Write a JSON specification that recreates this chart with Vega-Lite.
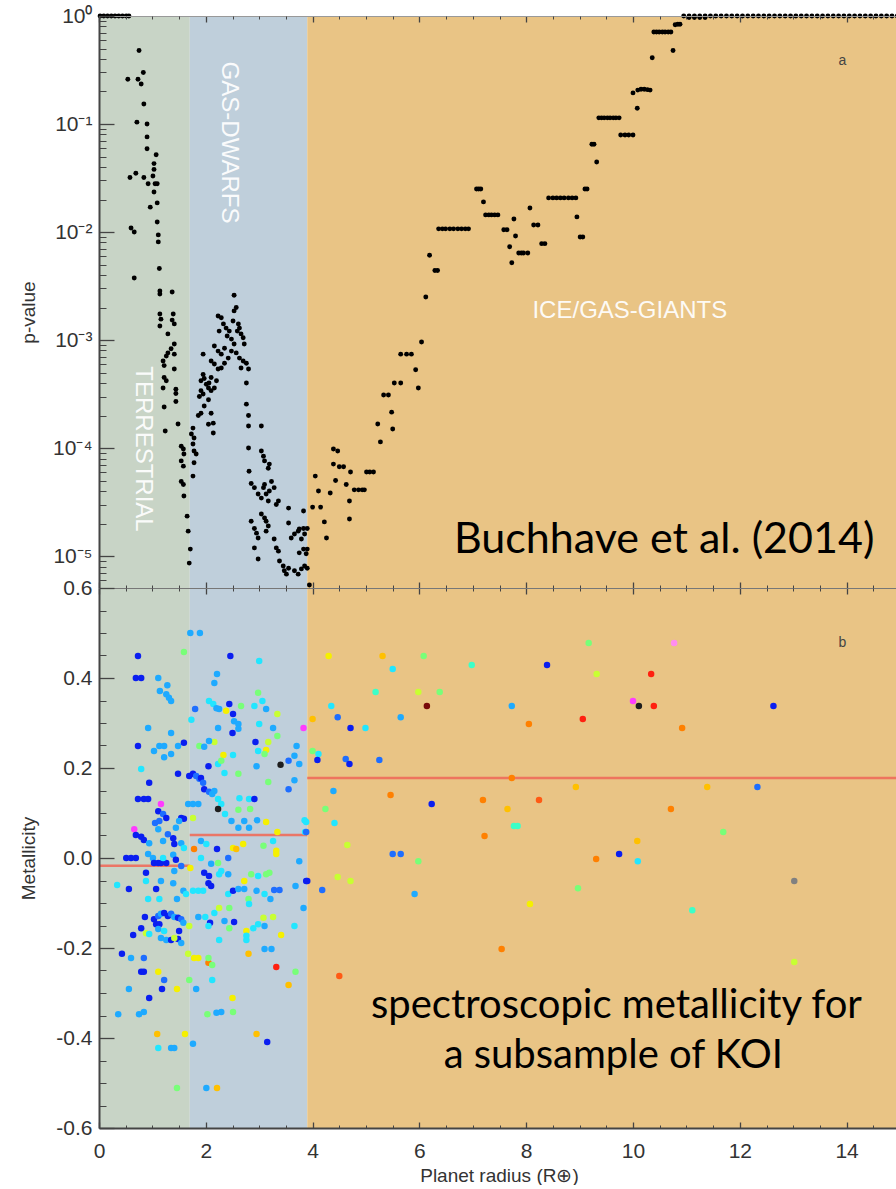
{
  "$schema": "https://vega.github.io/schema/vega-lite/v6.json",
  "padding": {"left": 19, "top": 5, "right": 0, "bottom": 0},
  "spacing": 0,
  "bounds": "flush",
  "config": {
    "view": {"stroke": null},
    "axis": {"labelFont": "Liberation Sans", "titleFont": "Liberation Sans", "labelColor": "#333333", "titleColor": "#333333", "tickColor": "#444444", "domainColor": "#444444", "grid": false, "labelFlush": false, "labelOverlap": false, "titleFontWeight": "normal"},
    "text": {"font": "Liberation Sans"}
  },
  "datasets": {
    "bands": [
      {"x0": 0, "x1": 1.7, "band": "terrestrial"},
      {"x0": 1.7, "x1": 3.9, "band": "dwarf"},
      {"x0": 3.9, "x1": 15, "band": "giant"}
    ],
    "means": [
      {"x0": 0, "x1": 1.7, "m": -0.017},
      {"x0": 1.7, "x1": 3.9, "m": 0.051},
      {"x0": 3.9, "x1": 15, "m": 0.178}
    ],
    "regionsV": [
      {"r": 0.83, "p": 0.000098, "t": "TERRESTRIAL"},
      {"r": 2.43, "p": 0.0674, "t": "GAS-DWARFS"}
    ],
    "regionsH": [
      {"r": 9.94, "p": 0.00186, "t": "ICE/GAS-GIANTS"}
    ],
    "labelA": [{"r": 13.92, "p": 0.38, "t": "a"}],
    "labelB": [{"r": 13.92, "m": 0.478, "t": "b"}],
    "cite": [{"r": 14.52, "p": 0.0000107, "t": "Buchhave et al. (2014)"}],
    "note": [
      {"r": 9.69, "m": -0.356, "t": "spectroscopic metallicity for"},
      {"r": 9.63, "m": -0.467, "t": "a subsample of KOI"}
    ],
    "top": [
      {"r":0.02,"p":1},{"r":0.09,"p":1},{"r":0.16,"p":1},{"r":0.23,"p":1},{"r":0.3,"p":1},{"r":0.37,"p":1},{"r":0.44,"p":1},{"r":0.51,"p":1},{"r":0.56,"p":1},
      {"r":0.75,"p":0.48},{"r":0.54,"p":0.26},{"r":0.73,"p":0.26},{"r":0.79,"p":0.235},{"r":0.83,"p":0.30},{"r":0.84,"p":0.153},{"r":0.71,"p":0.104},{"r":0.90,"p":0.10},{"r":0.90,"p":0.076},{"r":0.90,"p":0.059},{"r":1.07,"p":0.052},{"r":1.03,"p":0.043},{"r":1.03,"p":0.038},{"r":0.58,"p":0.032},{"r":0.69,"p":0.035},{"r":0.84,"p":0.032},{"r":0.92,"p":0.028},{"r":1.01,"p":0.033},{"r":1.05,"p":0.028},{"r":1.09,"p":0.028},{"r":1.03,"p":0.0235},{"r":0.96,"p":0.017},{"r":1.09,"p":0.0186},{"r":1.09,"p":0.0124},{"r":0.60,"p":0.0109},{"r":0.66,"p":0.010},{"r":1.11,"p":0.0094},{"r":1.11,"p":0.0081},{"r":1.13,"p":0.0046},{"r":0.66,"p":0.00375},{"r":1.14,"p":0.00284},{"r":1.14,"p":0.00267},{"r":1.37,"p":0.00278},{"r":1.14,"p":0.00174},{"r":1.16,"p":0.00156},{"r":1.39,"p":0.00174},{"r":1.37,"p":0.00153},{"r":1.41,"p":0.00141},{"r":1.14,"p":0.00135},{"r":1.29,"p":0.00114},{"r":1.41,"p":0.00092},{"r":1.35,"p":0.00083},{"r":1.29,"p":0.00076},{"r":1.41,"p":0.00074},{"r":1.26,"p":0.00071},{"r":1.20,"p":0.00064},{"r":1.22,"p":0.00058},{"r":1.41,"p":0.00054},{"r":1.22,"p":0.00045},{"r":1.26,"p":0.00042},{"r":1.20,"p":0.00036},{"r":1.44,"p":0.00035},{"r":1.44,"p":0.00032},{"r":1.44,"p":0.00027},{"r":1.22,"p":0.00024},{"r":1.48,"p":0.000167},{"r":1.24,"p":0.000144},{"r":1.54,"p":0.000104},{"r":1.58,"p":0.000098},{"r":1.59,"p":0.000088},{"r":1.54,"p":0.000076},{"r":1.58,"p":0.000068},{"r":1.54,"p":0.000049},{"r":1.58,"p":0.000046},{"r":1.59,"p":0.000036},{"r":1.65,"p":0.0000234},{"r":1.67,"p":0.000017},{"r":1.71,"p":0.0000116},{"r":1.69,"p":0.0000086},
      {"r":1.76,"p":0.000153},{"r":1.73,"p":0.000135},{"r":1.78,"p":0.000124},{"r":1.76,"p":0.000109},{"r":1.78,"p":0.000094},{"r":1.82,"p":0.000088},{"r":1.78,"p":0.000073},{"r":1.76,"p":0.000055},{"r":1.86,"p":0.0002},{"r":1.91,"p":0.00021},{"r":1.97,"p":0.000245},{"r":2.05,"p":0.00028},{"r":1.95,"p":0.000316},{"r":1.88,"p":0.0003},{"r":1.91,"p":0.00034},{"r":1.91,"p":0.00042},{"r":1.97,"p":0.00044},{"r":1.95,"p":0.00048},{"r":2.01,"p":0.00039},{"r":2.06,"p":0.0004},{"r":2.10,"p":0.00045},{"r":2.05,"p":0.00036},{"r":2.10,"p":0.00034},{"r":2.16,"p":0.00036},{"r":2.20,"p":0.00042},{"r":2.10,"p":0.00021},{"r":2.14,"p":0.00017},{"r":2.14,"p":0.000138},{"r":2.05,"p":0.000166},{"r":1.95,"p":0.00074},{"r":2.10,"p":0.00064},{"r":2.16,"p":0.0006},{"r":2.23,"p":0.00054},{"r":2.29,"p":0.00055},{"r":2.35,"p":0.00061},
      {"r":2.16,"p":0.00088},{"r":2.23,"p":0.00079},{"r":2.29,"p":0.00074},{"r":2.35,"p":0.00084},{"r":2.42,"p":0.00068},{"r":2.48,"p":0.00079},{"r":2.53,"p":0.00092},{"r":2.57,"p":0.00076},{"r":2.63,"p":0.00068},{"r":2.70,"p":0.00064},{"r":2.76,"p":0.00061},{"r":2.66,"p":0.00055},{"r":2.80,"p":0.00054},{"r":2.76,"p":0.0004},
      {"r":2.23,"p":0.00167},{"r":2.29,"p":0.00161},{"r":2.33,"p":0.00141},{"r":2.38,"p":0.00129},{"r":2.44,"p":0.00121},{"r":2.51,"p":0.0015},{"r":2.53,"p":0.00186},{"r":2.57,"p":0.002},{"r":2.61,"p":0.00141},{"r":2.63,"p":0.00129},{"r":2.66,"p":0.00114},{"r":2.70,"p":0.00105},{"r":2.72,"p":0.00092},{"r":2.53,"p":0.0026},{"r":2.25,"p":0.00121},{"r":2.40,"p":0.00109},{"r":2.48,"p":0.00102},{"r":2.59,"p":0.00121},
      {"r":2.76,"p":0.000255},{"r":2.80,"p":0.0002},{"r":2.80,"p":0.00016},{"r":2.80,"p":0.0001},{"r":3.04,"p":0.00016},{"r":2.81,"p":0.000061},{"r":2.85,"p":0.000047},{"r":2.91,"p":0.000043},{"r":2.98,"p":0.0000375},{"r":3.04,"p":0.0000344},{"r":3.08,"p":0.000043},{"r":3.10,"p":0.000046},{"r":3.13,"p":0.0000375},{"r":3.17,"p":0.0000323},{"r":3.19,"p":0.00004},{"r":3.23,"p":0.000049},{"r":3.28,"p":0.000043},{"r":3.36,"p":0.0000323},{"r":3.32,"p":0.00003},{"r":3.04,"p":0.000094},{"r":3.08,"p":0.000084},{"r":3.10,"p":0.000076},{"r":3.17,"p":0.000065},{"r":3.19,"p":0.000071},{"r":2.85,"p":0.000021},{"r":2.91,"p":0.000018},{"r":2.95,"p":0.0000163},{"r":2.98,"p":0.0000147},{"r":2.91,"p":0.0000119},{"r":2.98,"p":0.0000094},{"r":3.04,"p":0.0000245},{"r":3.10,"p":0.0000225},{"r":3.13,"p":0.000021},{"r":3.17,"p":0.000019},{"r":3.13,"p":0.000017},{"r":3.28,"p":0.0000144},{"r":3.32,"p":0.0000119},{"r":3.36,"p":0.0000111},{"r":3.38,"p":0.000009},{"r":3.45,"p":0.0000081},{"r":3.47,"p":0.0000073},{"r":3.51,"p":0.0000068},{"r":3.55,"p":0.0000077},{"r":3.55,"p":0.0000278},{"r":3.55,"p":0.0000202},{"r":3.60,"p":0.0000147},{"r":3.66,"p":0.000016},{"r":3.73,"p":0.000017},{"r":3.75,"p":0.0000178},{"r":3.83,"p":0.000018},{"r":3.85,"p":0.000016},{"r":3.79,"p":0.0000144},{"r":3.83,"p":0.0000261},{"r":3.66,"p":0.0000073},{"r":3.73,"p":0.0000068},{"r":3.79,"p":0.0000076},{"r":3.85,"p":0.0000081},{"r":3.88,"p":0.0000105},{"r":3.83,"p":0.0000116},{"r":3.75,"p":0.0000107},
      {"r":3.94,"p":0.0000054},{"r":3.90,"p":0.0000077},{"r":3.90,"p":0.0000116},{"r":3.90,"p":0.000018},{"r":4.05,"p":0.000055},{"r":4.11,"p":0.00004},{"r":4.0,"p":0.0000284},{"r":4.15,"p":0.0000284},{"r":4.22,"p":0.0000207},{"r":4.26,"p":0.0000147},{"r":4.33,"p":0.0000383},{"r":4.39,"p":0.000098},{"r":4.47,"p":0.000094},{"r":4.39,"p":0.000071},{"r":4.43,"p":0.00005},{"r":4.50,"p":0.000067},{"r":4.58,"p":0.000067},{"r":4.71,"p":0.00006},{"r":4.63,"p":0.000046},{"r":4.69,"p":0.0000323},{"r":4.69,"p":0.000022},{"r":4.78,"p":0.000041},{"r":4.86,"p":0.000041},{"r":4.93,"p":0.000041},{"r":4.97,"p":0.000041},{"r":5.01,"p":0.00006},{"r":5.07,"p":0.00006},{"r":5.14,"p":0.00006},{"r":5.22,"p":0.000167},{"r":5.27,"p":0.000114},{"r":5.33,"p":0.00031},{"r":5.42,"p":0.00031},{"r":5.48,"p":0.000215},{"r":5.50,"p":0.00015},{"r":5.53,"p":0.0004},{"r":5.65,"p":0.0004},{"r":5.65,"p":0.00074},{"r":5.76,"p":0.00074},{"r":5.85,"p":0.00074},{"r":5.93,"p":0.00053},{"r":5.98,"p":0.00036},{"r":6.04,"p":0.00096},{"r":6.12,"p":0.0025},{"r":6.19,"p":0.0061},{"r":6.29,"p":0.0044},{"r":6.34,"p":0.0044},
      {"r":6.36,"p":0.0107},{"r":6.43,"p":0.0107},{"r":6.49,"p":0.0107},{"r":6.57,"p":0.0107},{"r":6.64,"p":0.0107},{"r":6.72,"p":0.0107},{"r":6.79,"p":0.0107},{"r":6.86,"p":0.0107},{"r":6.92,"p":0.0107},{"r":7.07,"p":0.025},{"r":7.11,"p":0.025},{"r":7.15,"p":0.025},{"r":7.20,"p":0.019},{"r":7.24,"p":0.0144},{"r":7.30,"p":0.0144},{"r":7.35,"p":0.0144},{"r":7.41,"p":0.0144},{"r":7.47,"p":0.0144},{"r":7.58,"p":0.0105},{"r":7.64,"p":0.0105},{"r":7.77,"p":0.0132},{"r":7.80,"p":0.0092},{"r":7.69,"p":0.0073},{"r":7.86,"p":0.0064},{"r":7.91,"p":0.0064},{"r":7.95,"p":0.0064},{"r":8.03,"p":0.0064},{"r":7.73,"p":0.0052},{"r":8.07,"p":0.0167},{"r":8.14,"p":0.0116},{"r":8.22,"p":0.0116},{"r":8.29,"p":0.0078},{"r":8.35,"p":0.0078},{"r":8.42,"p":0.0207},{"r":8.50,"p":0.0207},{"r":8.57,"p":0.0207},{"r":8.64,"p":0.0207},{"r":8.71,"p":0.0207},{"r":8.79,"p":0.0207},{"r":8.86,"p":0.0207},{"r":8.93,"p":0.0207},{"r":8.95,"p":0.0138},{"r":9.01,"p":0.009},{"r":9.06,"p":0.009},{"r":9.10,"p":0.025},{"r":9.14,"p":0.025},{"r":9.23,"p":0.065},{"r":9.27,"p":0.065},{"r":9.32,"p":0.0445},{"r":9.36,"p":0.114},{"r":9.41,"p":0.114},{"r":9.46,"p":0.114},{"r":9.52,"p":0.114},{"r":9.57,"p":0.114},{"r":9.63,"p":0.114},{"r":9.68,"p":0.114},{"r":9.74,"p":0.114},{"r":9.77,"p":0.079},{"r":9.85,"p":0.079},{"r":9.92,"p":0.079},{"r":10.0,"p":0.079},{"r":10.0,"p":0.194},{"r":10.09,"p":0.206},{"r":10.15,"p":0.21},{"r":10.21,"p":0.21},{"r":10.27,"p":0.208},{"r":10.32,"p":0.206},{"r":10.08,"p":0.14},{"r":10.36,"p":0.41},{"r":10.39,"p":0.71},{"r":10.44,"p":0.71},{"r":10.49,"p":0.71},{"r":10.55,"p":0.71},{"r":10.60,"p":0.71},{"r":10.66,"p":0.71},{"r":10.71,"p":0.71},{"r":10.75,"p":0.48},{"r":10.79,"p":0.83},{"r":10.84,"p":0.84},{"r":10.88,"p":0.84},
      {"r":11.05,"p":0.97},{"r":11.15,"p":0.97},{"r":11.25,"p":0.97},{"r":11.35,"p":0.97},
      {"r":10.95,"p":1},{"r":11.05,"p":1},{"r":11.15,"p":1},{"r":11.25,"p":1},{"r":11.35,"p":1},{"r":11.45,"p":1},{"r":11.55,"p":1},{"r":11.65,"p":1},{"r":11.75,"p":1},{"r":11.85,"p":1},{"r":11.95,"p":1},{"r":12.05,"p":1},{"r":12.15,"p":1},{"r":12.25,"p":1},{"r":12.35,"p":1},{"r":12.45,"p":1},{"r":12.55,"p":1},{"r":12.65,"p":1},{"r":12.75,"p":1},{"r":12.85,"p":1},{"r":12.95,"p":1},{"r":13.05,"p":1},{"r":13.15,"p":1},{"r":13.25,"p":1},{"r":13.35,"p":1},{"r":13.45,"p":1},{"r":13.55,"p":1},{"r":13.65,"p":1},{"r":13.75,"p":1},{"r":13.85,"p":1},{"r":13.95,"p":1},{"r":14.05,"p":1},{"r":14.15,"p":1},{"r":14.25,"p":1},{"r":14.35,"p":1},{"r":14.45,"p":1},{"r":14.55,"p":1},{"r":14.65,"p":1},{"r":14.75,"p":1},{"r":14.85,"p":1},{"r":14.95,"p":1}
    ],
    "bottom": [
      {"r":1.71,"m":0.50,"c":"s"},{"r":1.89,"m":0.50,"c":"s"},{"r":1.59,"m":0.458,"c":"g"},{"r":0.73,"m":0.449,"c":"b"},{"r":2.46,"m":0.449,"c":"b"},{"r":3.0,"m":0.438,"c":"c"},{"r":0.69,"m":0.40,"c":"b"},{"r":0.79,"m":0.40,"c":"b"},{"r":1.11,"m":0.40,"c":"s"},{"r":2.21,"m":0.409,"c":"s"},{"r":2.16,"m":0.389,"c":"s"},{"r":1.14,"m":0.371,"c":"s"},{"r":1.26,"m":0.364,"c":"s"},{"r":1.31,"m":0.356,"c":"s"},{"r":1.35,"m":0.349,"c":"s"},{"r":1.28,"m":0.384,"c":"s"},{"r":1.80,"m":0.331,"c":"d"},{"r":1.73,"m":0.307,"c":"c"},{"r":2.06,"m":0.349,"c":"c"},{"r":2.14,"m":0.342,"c":"c"},{"r":2.20,"m":0.333,"c":"s"},{"r":2.25,"m":0.331,"c":"s"},{"r":2.44,"m":0.342,"c":"b"},{"r":2.51,"m":0.32,"c":"b"},{"r":2.38,"m":0.327,"c":"y"},{"r":2.66,"m":0.338,"c":"g"},{"r":2.53,"m":0.304,"c":"s"},{"r":2.61,"m":0.298,"c":"s"},{"r":2.61,"m":0.287,"c":"s"},{"r":2.98,"m":0.367,"c":"g"},{"r":3.06,"m":0.349,"c":"c"},{"r":2.91,"m":0.338,"c":"c"},{"r":3.13,"m":0.331,"c":"s"},{"r":3.34,"m":0.32,"c":"l"},{"r":0.92,"m":0.289,"c":"s"},{"r":1.35,"m":0.278,"c":"s"},{"r":2.23,"m":0.289,"c":"s"},{"r":2.50,"m":0.278,"c":"b"},{"r":3.0,"m":0.298,"c":"c"},{"r":3.26,"m":0.289,"c":"s"},{"r":3.34,"m":0.271,"c":"g"},{"r":0.73,"m":0.249,"c":"b"},{"r":1.03,"m":0.238,"c":"s"},{"r":1.13,"m":0.249,"c":"s"},{"r":1.22,"m":0.249,"c":"s"},{"r":1.22,"m":0.224,"c":"s"},{"r":1.35,"m":0.231,"c":"s"},{"r":1.48,"m":0.249,"c":"s"},{"r":1.59,"m":0.256,"c":"b"},{"r":1.88,"m":0.249,"c":"g"},{"r":1.97,"m":0.247,"c":"s"},{"r":2.16,"m":0.258,"c":"l"},{"r":2.06,"m":0.26,"c":"s"},{"r":2.51,"m":0.229,"c":"c"},{"r":2.33,"m":0.229,"c":"y"},{"r":2.93,"m":0.258,"c":"b"},{"r":2.98,"m":0.238,"c":"c"},{"r":3.17,"m":0.258,"c":"l"},{"r":3.13,"m":0.24,"c":"y"},{"r":3.10,"m":0.231,"c":"g"},{"r":3.70,"m":0.249,"c":"s"},{"r":3.66,"m":0.227,"c":"s"},{"r":3.55,"m":0.216,"c":"d"},{"r":0.79,"m":0.198,"c":"c"},{"r":1.48,"m":0.187,"c":"b"},{"r":0.94,"m":0.167,"c":"b"},{"r":1.69,"m":0.182,"c":"b"},{"r":1.76,"m":0.187,"c":"b"},{"r":1.82,"m":0.182,"c":"d"},{"r":1.88,"m":0.176,"c":"d"},{"r":2.05,"m":0.204,"c":"b"},{"r":2.23,"m":0.209,"c":"c"},{"r":2.29,"m":0.216,"c":"g"},{"r":2.35,"m":0.189,"c":"c"},{"r":2.61,"m":0.187,"c":"g"},{"r":2.95,"m":0.204,"c":"s"},{"r":3.17,"m":0.169,"c":"g"},{"r":3.66,"m":0.173,"c":"s"},{"r":3.55,"m":0.153,"c":"d"},{"r":3.75,"m":0.209,"c":"s"},{"r":3.40,"m":0.207,"c":"k"},
      {"r":0.73,"m":0.131,"c":"b"},{"r":0.84,"m":0.131,"c":"b"},{"r":0.92,"m":0.131,"c":"b"},{"r":1.16,"m":0.12,"c":"m"},{"r":1.11,"m":0.104,"c":"b"},{"r":1.20,"m":0.098,"c":"d"},{"r":1.26,"m":0.089,"c":"b"},{"r":1.05,"m":0.078,"c":"d"},{"r":1.13,"m":0.082,"c":"d"},{"r":1.54,"m":0.089,"c":"b"},{"r":1.59,"m":0.087,"c":"b"},{"r":1.44,"m":0.067,"c":"s"},{"r":1.50,"m":0.082,"c":"s"},{"r":1.76,"m":0.089,"c":"l"},{"r":1.67,"m":0.12,"c":"s"},{"r":1.76,"m":0.12,"c":"s"},{"r":1.86,"m":0.12,"c":"s"},{"r":1.91,"m":0.178,"c":"b"},{"r":1.95,"m":0.167,"c":"d"},{"r":1.97,"m":0.153,"c":"b"},{"r":2.06,"m":0.147,"c":"d"},{"r":2.12,"m":0.142,"c":"s"},{"r":2.16,"m":0.149,"c":"s"},{"r":2.23,"m":0.131,"c":"c"},{"r":2.29,"m":0.12,"c":"c"},{"r":2.23,"m":0.109,"c":"k"},{"r":2.36,"m":0.098,"c":"c"},{"r":2.61,"m":0.107,"c":"g"},{"r":2.83,"m":0.109,"c":"g"},{"r":2.63,"m":0.133,"c":"c"},{"r":2.81,"m":0.131,"c":"c"},{"r":2.91,"m":0.131,"c":"b"},{"r":2.48,"m":0.082,"c":"s"},{"r":2.61,"m":0.067,"c":"s"},{"r":2.72,"m":0.082,"c":"s"},{"r":2.81,"m":0.067,"c":"s"},{"r":2.96,"m":0.084,"c":"s"},{"r":3.13,"m":0.08,"c":"y"},{"r":3.34,"m":0.058,"c":"y"},{"r":3.85,"m":0.084,"c":"c"},{"r":3.86,"m":0.058,"c":"c"},{"r":0.66,"m":0.064,"c":"m"},{"r":0.69,"m":0.051,"c":"b"},{"r":0.79,"m":0.047,"c":"b"},{"r":0.84,"m":0.04,"c":"b"},{"r":1.11,"m":0.064,"c":"s"},{"r":0.94,"m":0.033,"c":"s"},{"r":1.20,"m":0.038,"c":"s"},{"r":1.29,"m":0.053,"c":"d"},{"r":1.39,"m":0.044,"c":"b"},{"r":1.41,"m":0.031,"c":"b"},{"r":1.54,"m":0.033,"c":"s"},{"r":1.59,"m":0.022,"c":"c"},{"r":1.78,"m":0.02,"c":"r"},{"r":1.91,"m":0.038,"c":"s"},{"r":2.01,"m":0.031,"c":"c"},{"r":2.21,"m":0.02,"c":"b"},{"r":2.42,"m":0.0,"c":"d"},{"r":2.51,"m":0.022,"c":"y"},{"r":2.57,"m":0.02,"c":"o"},{"r":2.70,"m":0.031,"c":"y"},{"r":3.08,"m":0.027,"c":"g"},{"r":3.26,"m":0.038,"c":"c"},{"r":3.32,"m":0.016,"c":"y"},{"r":3.32,"m":0.009,"c":"y"},{"r":3.75,"m":-0.007,"c":"s"},
      {"r":0.51,"m":0.0,"c":"b"},{"r":0.60,"m":0.0,"c":"b"},{"r":0.69,"m":0.0,"c":"b"},{"r":0.92,"m":0.009,"c":"s"},{"r":1.01,"m":0.0,"c":"s"},{"r":1.03,"m":-0.011,"c":"b"},{"r":1.11,"m":-0.011,"c":"b"},{"r":1.16,"m":-0.011,"c":"b"},{"r":1.26,"m":-0.011,"c":"b"},{"r":1.20,"m":0.0,"c":"c"},{"r":1.39,"m":0.007,"c":"s"},{"r":1.44,"m":-0.004,"c":"b"},{"r":1.54,"m":-0.018,"c":"d"},{"r":1.71,"m":-0.022,"c":"y"},{"r":1.91,"m":0.0,"c":"c"},{"r":2.10,"m":-0.013,"c":"s"},{"r":2.23,"m":-0.011,"c":"g"},{"r":0.88,"m":-0.033,"c":"b"},{"r":1.41,"m":-0.029,"c":"s"},{"r":1.97,"m":-0.033,"c":"b"},{"r":2.06,"m":-0.04,"c":"b"},{"r":2.25,"m":-0.036,"c":"c"},{"r":2.29,"m":-0.029,"c":"c"},{"r":2.42,"m":-0.036,"c":"s"},{"r":2.72,"m":-0.051,"c":"y"},{"r":2.85,"m":-0.036,"c":"g"},{"r":2.98,"m":-0.04,"c":"c"},{"r":3.13,"m":-0.036,"c":"g"},{"r":3.19,"m":-0.033,"c":"g"},{"r":3.88,"m":-0.051,"c":"b"},{"r":0.34,"m":-0.06,"c":"c"},{"r":0.56,"m":-0.069,"c":"b"},{"r":0.88,"m":-0.051,"c":"c"},{"r":1.07,"m":-0.069,"c":"b"},{"r":1.16,"m":-0.051,"c":"s"},{"r":1.39,"m":-0.056,"c":"s"},{"r":1.58,"m":-0.073,"c":"s"},{"r":1.63,"m":-0.08,"c":"c"},{"r":1.76,"m":-0.073,"c":"c"},{"r":1.86,"m":-0.073,"c":"c"},{"r":1.95,"m":-0.073,"c":"c"},{"r":2.05,"m":-0.056,"c":"b"},{"r":2.10,"m":-0.062,"c":"b"},{"r":2.42,"m":-0.08,"c":"c"},{"r":2.51,"m":-0.073,"c":"b"},{"r":2.61,"m":-0.069,"c":"s"},{"r":2.72,"m":-0.069,"c":"s"},{"r":2.80,"m":-0.091,"c":"g"},{"r":2.81,"m":-0.102,"c":"c"},{"r":2.95,"m":-0.073,"c":"s"},{"r":3.10,"m":-0.08,"c":"c"},{"r":3.28,"m":-0.071,"c":"d"},{"r":3.38,"m":-0.071,"c":"d"},{"r":3.21,"m":-0.091,"c":"s"},{"r":3.68,"m":-0.062,"c":"s"},{"r":0.92,"m":-0.091,"c":"c"},{"r":1.13,"m":-0.091,"c":"c"},{"r":1.46,"m":-0.091,"c":"s"},{"r":3.83,"m":-0.111,"c":"s"},{"r":0.86,"m":-0.131,"c":"b"},
      {"r":1.03,"m":-0.136,"c":"b"},{"r":1.11,"m":-0.129,"c":"d"},{"r":1.16,"m":-0.124,"c":"s"},{"r":1.22,"m":-0.122,"c":"b"},{"r":1.29,"m":-0.129,"c":"b"},{"r":1.35,"m":-0.124,"c":"d"},{"r":1.41,"m":-0.131,"c":"s"},{"r":1.48,"m":-0.133,"c":"b"},{"r":1.54,"m":-0.136,"c":"d"},{"r":1.58,"m":-0.144,"c":"s"},{"r":1.07,"m":-0.147,"c":"b"},{"r":1.13,"m":-0.147,"c":"b"},{"r":0.79,"m":-0.156,"c":"b"},{"r":0.64,"m":-0.171,"c":"b"},{"r":0.88,"m":-0.167,"c":"l"},{"r":0.94,"m":-0.169,"c":"c"},{"r":1.11,"m":-0.158,"c":"s"},{"r":1.22,"m":-0.162,"c":"c"},{"r":1.16,"m":-0.178,"c":"s"},{"r":1.26,"m":-0.182,"c":"s"},{"r":1.35,"m":-0.182,"c":"b"},{"r":1.48,"m":-0.18,"c":"b"},{"r":1.54,"m":-0.189,"c":"s"},{"r":1.50,"m":-0.162,"c":"b"},{"r":1.41,"m":-0.178,"c":"l"},{"r":1.69,"m":-0.151,"c":"l"},{"r":1.86,"m":-0.131,"c":"s"},{"r":1.99,"m":-0.131,"c":"c"},{"r":2.08,"m":-0.144,"c":"b"},{"r":2.16,"m":-0.122,"c":"c"},{"r":2.25,"m":-0.111,"c":"l"},{"r":2.35,"m":-0.14,"c":"s"},{"r":2.44,"m":-0.111,"c":"g"},{"r":2.53,"m":-0.142,"c":"b"},{"r":2.44,"m":-0.156,"c":"g"},{"r":2.25,"m":-0.182,"c":"c"},{"r":2.05,"m":-0.151,"c":"c"},{"r":2.76,"m":-0.162,"c":"y"},{"r":2.76,"m":-0.173,"c":"c"},{"r":2.76,"m":-0.182,"c":"c"},{"r":2.89,"m":-0.156,"c":"c"},{"r":2.98,"m":-0.147,"c":"c"},{"r":3.08,"m":-0.133,"c":"l"},{"r":3.10,"m":-0.151,"c":"s"},{"r":3.26,"m":-0.131,"c":"l"},{"r":3.41,"m":-0.171,"c":"y"},{"r":3.66,"m":-0.151,"c":"c"},
      {"r":0.43,"m":-0.213,"c":"b"},{"r":0.60,"m":-0.222,"c":"s"},{"r":0.84,"m":-0.222,"c":"d"},{"r":0.79,"m":-0.253,"c":"b"},{"r":0.84,"m":-0.253,"c":"b"},{"r":1.11,"m":-0.253,"c":"y"},{"r":1.22,"m":-0.271,"c":"d"},{"r":1.18,"m":-0.291,"c":"b"},{"r":1.46,"m":-0.291,"c":"y"},{"r":0.56,"m":-0.291,"c":"s"},{"r":0.94,"m":-0.311,"c":"b"},{"r":1.67,"m":-0.213,"c":"l"},{"r":1.78,"m":-0.222,"c":"y"},{"r":1.86,"m":-0.222,"c":"y"},{"r":2.05,"m":-0.233,"c":"r"},{"r":2.05,"m":-0.222,"c":"g"},{"r":2.12,"m":-0.238,"c":"g"},{"r":1.69,"m":-0.271,"c":"g"},{"r":1.82,"m":-0.291,"c":"s"},{"r":2.12,"m":-0.271,"c":"c"},{"r":2.80,"m":-0.213,"c":"o"},{"r":3.10,"m":-0.202,"c":"s"},{"r":3.23,"m":-0.202,"c":"s"},{"r":3.32,"m":-0.242,"c":"red"},{"r":3.68,"m":-0.253,"c":"g"},{"r":3.55,"m":-0.282,"c":"o"},{"r":2.50,"m":-0.311,"c":"y"},{"r":2.51,"m":-0.342,"c":"g"},{"r":2.29,"m":-0.342,"c":"s"},{"r":2.20,"m":-0.344,"c":"s"},{"r":2.03,"m":-0.347,"c":"g"},{"r":0.36,"m":-0.347,"c":"s"},{"r":0.75,"m":-0.347,"c":"s"},{"r":0.84,"m":-0.342,"c":"s"},{"r":1.09,"m":-0.391,"c":"o"},{"r":1.61,"m":-0.391,"c":"y"},{"r":1.11,"m":-0.422,"c":"c"},{"r":1.35,"m":-0.422,"c":"s"},{"r":1.41,"m":-0.422,"c":"s"},{"r":1.76,"m":-0.413,"c":"s"},{"r":2.95,"m":-0.391,"c":"o"},{"r":3.15,"m":-0.409,"c":"b"},{"r":1.46,"m":-0.511,"c":"g"},{"r":2.01,"m":-0.511,"c":"s"},{"r":2.21,"m":-0.511,"c":"o"},
      {"r":3.83,"m":0.289,"c":"m"},{"r":4.0,"m":0.309,"c":"o"},{"r":4.30,"m":0.449,"c":"y"},{"r":5.31,"m":0.449,"c":"o"},{"r":6.08,"m":0.449,"c":"g"},{"r":5.50,"m":0.42,"c":"c"},{"r":6.98,"m":0.429,"c":"a"},{"r":8.39,"m":0.429,"c":"b"},{"r":9.17,"m":0.478,"c":"g"},{"r":10.77,"m":0.478,"c":"pk"},{"r":9.32,"m":0.409,"c":"l"},{"r":10.34,"m":0.409,"c":"red"},{"r":5.18,"m":0.369,"c":"a"},{"r":5.98,"m":0.369,"c":"l"},{"r":6.38,"m":0.369,"c":"g"},{"r":4.35,"m":0.338,"c":"c"},{"r":6.14,"m":0.338,"c":"dr"},{"r":7.73,"m":0.338,"c":"s"},{"r":10.0,"m":0.349,"c":"m"},{"r":10.11,"m":0.338,"c":"k"},{"r":10.39,"m":0.338,"c":"red"},{"r":12.63,"m":0.338,"c":"b"},{"r":4.47,"m":0.313,"c":"d"},{"r":4.71,"m":0.289,"c":"b"},{"r":4.99,"m":0.289,"c":"c"},{"r":5.65,"m":0.313,"c":"s"},{"r":9.06,"m":0.309,"c":"red"},{"r":8.05,"m":0.298,"c":"r"},{"r":10.92,"m":0.289,"c":"r"},{"r":4.0,"m":0.238,"c":"g"},{"r":4.11,"m":0.231,"c":"c"},{"r":4.09,"m":0.218,"c":"b"},{"r":4.62,"m":0.22,"c":"d"},{"r":4.69,"m":0.209,"c":"b"},{"r":5.25,"m":0.218,"c":"d"},{"r":7.73,"m":0.178,"c":"r"},{"r":4.39,"m":0.149,"c":"s"},{"r":5.46,"m":0.14,"c":"r"},{"r":6.23,"m":0.12,"c":"b"},{"r":7.19,"m":0.129,"c":"r"},{"r":8.24,"m":0.129,"c":"t"},{"r":7.65,"m":0.109,"c":"o"},{"r":8.93,"m":0.158,"c":"o"},{"r":11.39,"m":0.158,"c":"o"},{"r":12.33,"m":0.158,"c":"d"},{"r":10.71,"m":0.109,"c":"r"},{"r":4.24,"m":0.109,"c":"g"},{"r":3.88,"m":0.08,"c":"c"},{"r":4.41,"m":0.078,"c":"c"},{"r":3.88,"m":0.058,"c":"d"},{"r":7.77,"m":0.071,"c":"a"},{"r":7.84,"m":0.071,"c":"a"},{"r":7.22,"m":0.049,"c":"r"},{"r":11.69,"m":0.058,"c":"g"},{"r":4.65,"m":0.029,"c":"l"},{"r":10.08,"m":0.038,"c":"o"},{"r":5.50,"m":0.009,"c":"d"},{"r":5.65,"m":0.009,"c":"d"},{"r":5.98,"m":-0.007,"c":"g"},{"r":9.31,"m":-0.002,"c":"r"},{"r":9.74,"m":0.009,"c":"b"},{"r":10.09,"m":-0.007,"c":"c"},{"r":3.90,"m":-0.051,"c":"b"},{"r":4.47,"m":-0.042,"c":"l"},{"r":4.71,"m":-0.051,"c":"l"},{"r":13.02,"m":-0.051,"c":"gr"},{"r":4.18,"m":-0.071,"c":"d"},{"r":5.91,"m":-0.08,"c":"s"},{"r":8.97,"m":-0.067,"c":"g"},{"r":8.07,"m":-0.102,"c":"y"},{"r":11.11,"m":-0.116,"c":"a"},{"r":7.54,"m":-0.202,"c":"r"},{"r":13.02,"m":-0.231,"c":"l"},{"r":4.50,"m":-0.262,"c":"t"}
    ]
  },
  "vconcat": [
    {
      "width": 801,
      "height": 572,
      "resolve": {"axis": {"x": "independent", "y": "independent"}, "scale": {"color": "independent"}},
      "layer": [
        {
          "data": {"name": "bands"},
          "mark": {"type": "rect"},
          "encoding": {
            "x": {"field": "x0", "type": "quantitative", "scale": {"domain": [0, 15], "nice": false, "zero": false},
                  "axis": {"orient": "bottom", "zindex": 2, "values": [0, 2, 4, 6, 8, 10, 12, 14], "tickSize": -6, "tickWidth": 1.3, "labels": false, "title": null, "domain": true, "domainWidth": 1, "domainColor": "#777777"}},
            "x2": {"field": "x1"},
            "color": {"field": "band", "type": "nominal", "scale": {"domain": ["terrestrial", "dwarf", "giant"], "range": ["#c8d4c6", "#bfcfdb", "#e9c485"]}, "legend": null}
          }
        },
        {
          "data": {"name": "top"},
          "mark": {"type": "circle", "color": "#000000", "size": 24, "opacity": 1},
          "encoding": {
            "x": {"field": "r", "type": "quantitative", "scale": {"domain": [0, 15], "nice": false, "zero": false},
                  "axis": {"orient": "top", "zindex": 2, "values": [0, 2, 4, 6, 8, 10, 12, 14], "tickSize": -6, "tickWidth": 1.3, "labels": false, "title": null, "domain": true, "domainWidth": 1, "domainColor": "#999999"}},
            "y": {"field": "p", "type": "quantitative", "scale": {"type": "log", "domain": [0.00000506, 1], "nice": false},
                  "axis": {"orient": "left", "zindex": 2, "values": [0.00001, 0.0001, 0.001, 0.01, 0.1, 1], "tickSize": -15, "tickWidth": 1.3, "labelPadding": 22, "labelFontSize": 21,
                           "labelExpr": "datum.value > 0.5 ? '10⁰' : datum.value > 0.05 ? '10⁻¹' : datum.value > 0.005 ? '10⁻²' : datum.value > 0.0005 ? '10⁻³' : datum.value > 0.00005 ? '10⁻⁴' : '10⁻⁵'",
                           "title": "p-value", "titleFontSize": 19, "titleX": -71, "titleY": 296, "titleAngle": 270, "titleAlign": "center", "titleBaseline": "middle", "domain": true, "domainWidth": 2}}
          }
        },
        {
          "data": {"name": "regionsV"},
          "mark": {"type": "text", "angle": 90, "color": "#ffffff", "fontSize": 24, "font": "Liberation Sans", "align": "center", "baseline": "middle", "opacity": 0.92},
          "encoding": {
            "x": {"field": "r", "type": "quantitative", "scale": {"domain": [0, 15], "nice": false, "zero": false},
                  "axis": {"orient": "bottom", "zindex": 2, "values": [0.5, 1, 1.5, 2.5, 3, 3.5, 4.5, 5, 5.5, 6.5, 7, 7.5, 8.5, 9, 9.5, 10.5, 11, 11.5, 12.5, 13, 13.5, 14.5], "tickSize": -3, "labels": false, "title": null, "domain": false}},
            "y": {"field": "p", "type": "quantitative", "scale": {"type": "log", "domain": [0.00000506, 1], "nice": false},
                  "axis": {"orient": "left", "zindex": 2, "values": [0.000006, 0.000007, 0.000008, 0.000009, 0.00002, 0.00003, 0.00004, 0.00005, 0.00006, 0.00007, 0.00008, 0.00009, 0.0002, 0.0003, 0.0004, 0.0005, 0.0006, 0.0007, 0.0008, 0.0009, 0.002, 0.003, 0.004, 0.005, 0.006, 0.007, 0.008, 0.009, 0.02, 0.03, 0.04, 0.05, 0.06, 0.07, 0.08, 0.09, 0.2, 0.3, 0.4, 0.5, 0.6, 0.7, 0.8, 0.9], "tickSize": -7, "labels": false, "title": null, "domain": false}},
            "text": {"field": "t"}
          }
        },
        {
          "data": {"name": "regionsH"},
          "mark": {"type": "text", "color": "#ffffff", "fontSize": 24, "font": "Liberation Sans", "align": "center", "baseline": "middle", "opacity": 0.92},
          "encoding": {
            "x": {"field": "r", "type": "quantitative", "scale": {"domain": [0, 15], "nice": false, "zero": false},
                  "axis": {"orient": "top", "zindex": 2, "values": [0.5, 1, 1.5, 2.5, 3, 3.5, 4.5, 5, 5.5, 6.5, 7, 7.5, 8.5, 9, 9.5, 10.5, 11, 11.5, 12.5, 13, 13.5, 14.5], "tickSize": -3, "labels": false, "title": null, "domain": false}},
            "y": {"field": "p", "type": "quantitative", "scale": {"type": "log", "domain": [0.00000506, 1], "nice": false}, "axis": null},
            "text": {"field": "t"}
          }
        },
        {
          "data": {"name": "labelA"},
          "mark": {"type": "text", "color": "#444444", "fontSize": 14, "font": "Liberation Sans", "align": "center", "baseline": "middle"},
          "encoding": {
            "x": {"field": "r", "type": "quantitative", "scale": {"domain": [0, 15], "nice": false, "zero": false}, "axis": null},
            "y": {"field": "p", "type": "quantitative", "scale": {"type": "log", "domain": [0.00000506, 1], "nice": false}, "axis": null},
            "text": {"field": "t"}
          }
        },
        {
          "data": {"name": "cite"},
          "mark": {"type": "text", "color": "#000000", "fontSize": 43, "font": "Lato", "align": "right", "baseline": "alphabetic"},
          "encoding": {
            "x": {"field": "r", "type": "quantitative", "scale": {"domain": [0, 15], "nice": false, "zero": false}, "axis": null},
            "y": {"field": "p", "type": "quantitative", "scale": {"type": "log", "domain": [0.00000506, 1], "nice": false}, "axis": null},
            "text": {"field": "t"}
          }
        }
      ]
    },
    {
      "width": 801,
      "height": 540,
      "resolve": {"axis": {"x": "independent", "y": "independent"}, "scale": {"color": "independent"}},
      "layer": [
        {
          "data": {"name": "bands"},
          "mark": {"type": "rect"},
          "encoding": {
            "x": {"field": "x0", "type": "quantitative", "scale": {"domain": [0, 15], "nice": false, "zero": false},
                  "axis": {"orient": "bottom", "zindex": 2, "values": [0, 2, 4, 6, 8, 10, 12, 14], "format": "d", "tickSize": -6, "tickWidth": 1.3, "labelPadding": 18, "labelFontSize": 21, "title": "Planet radius (R⊕)", "titleFontSize": 19, "titleX": 400, "titleY": 47, "titleAlign": "center", "titleBaseline": "middle", "domain": true, "domainWidth": 2}},
            "x2": {"field": "x1"},
            "color": {"field": "band", "type": "nominal", "scale": {"domain": ["terrestrial", "dwarf", "giant"], "range": ["#c8d4c6", "#bfcfdb", "#e9c485"]}, "legend": null}
          }
        },
        {
          "data": {"name": "means"},
          "mark": {"type": "rule", "color": "#ee6b5a", "strokeWidth": 2.5, "opacity": 0.9},
          "encoding": {
            "x": {"field": "x0", "type": "quantitative", "scale": {"domain": [0, 15], "nice": false, "zero": false},
                  "axis": {"orient": "bottom", "zindex": 2, "values": [0.5, 1, 1.5, 2.5, 3, 3.5, 4.5, 5, 5.5, 6.5, 7, 7.5, 8.5, 9, 9.5, 10.5, 11, 11.5, 12.5, 13, 13.5, 14.5], "tickSize": -3, "labels": false, "title": null, "domain": false}},
            "x2": {"field": "x1"},
            "y": {"field": "m", "type": "quantitative", "scale": {"domain": [-0.6, 0.6], "nice": false, "zero": false},
                  "axis": {"orient": "left", "zindex": 2, "values": [-0.55, -0.5, -0.45, -0.35, -0.3, -0.25, -0.15, -0.1, -0.05, 0.05, 0.1, 0.15, 0.25, 0.3, 0.35, 0.45, 0.5, 0.55], "tickSize": -7, "labels": false, "title": null, "domain": false}}
          }
        },
        {
          "data": {"name": "bottom"},
          "mark": {"type": "circle", "size": 42, "opacity": 1},
          "encoding": {
            "x": {"field": "r", "type": "quantitative", "scale": {"domain": [0, 15], "nice": false, "zero": false},
                  "axis": {"orient": "top", "zindex": 2, "values": [0, 2, 4, 6, 8, 10, 12, 14], "tickSize": -6, "tickWidth": 1.3, "labels": false, "title": null, "domain": true, "domainWidth": 1, "domainColor": "#777777"}},
            "y": {"field": "m", "type": "quantitative", "scale": {"domain": [-0.6, 0.6], "nice": false, "zero": false},
                  "axis": {"orient": "left", "zindex": 2, "values": [-0.6, -0.4, -0.2, 0, 0.2, 0.4, 0.6], "tickSize": -15, "tickWidth": 1.3, "labelPadding": 22, "labelFontSize": 21,
                           "labelExpr": "datum.value < -0.001 ? '-' + format(-datum.value, '.1f') : format(abs(datum.value), '.1f')",
                           "title": "Metallicity", "titleFontSize": 19, "titleX": -71, "titleY": 270, "titleAngle": 270, "titleAlign": "center", "titleBaseline": "middle", "domain": true, "domainWidth": 2}},
            "color": {"field": "c", "type": "nominal", "legend": null,
                      "scale": {"domain": ["b", "d", "s", "c", "a", "g", "l", "y", "o", "r", "t", "red", "dr", "m", "pk", "k", "gr"],
                                "range": ["#0a1ef0", "#1e6eff", "#1eaaff", "#22e6ff", "#3cffc8", "#78ff78", "#c8ff32", "#f5f000", "#ffc000", "#ff8000", "#ff5a14", "#ff2010", "#780a0a", "#ff3cff", "#ff8cf0", "#1e1e1e", "#808080"]}}
          }
        },
        {
          "data": {"name": "labelB"},
          "mark": {"type": "text", "color": "#444444", "fontSize": 14, "font": "Liberation Sans", "align": "center", "baseline": "middle"},
          "encoding": {
            "x": {"field": "r", "type": "quantitative", "scale": {"domain": [0, 15], "nice": false, "zero": false},
                  "axis": {"orient": "top", "zindex": 2, "values": [0.5, 1, 1.5, 2.5, 3, 3.5, 4.5, 5, 5.5, 6.5, 7, 7.5, 8.5, 9, 9.5, 10.5, 11, 11.5, 12.5, 13, 13.5, 14.5], "tickSize": -3, "labels": false, "title": null, "domain": false}},
            "y": {"field": "m", "type": "quantitative", "scale": {"domain": [-0.6, 0.6], "nice": false, "zero": false}, "axis": null},
            "text": {"field": "t"}
          }
        },
        {
          "data": {"name": "note"},
          "mark": {"type": "text", "color": "#000000", "fontSize": 40, "font": "Lato", "align": "center", "baseline": "alphabetic"},
          "encoding": {
            "x": {"field": "r", "type": "quantitative", "scale": {"domain": [0, 15], "nice": false, "zero": false}, "axis": null},
            "y": {"field": "m", "type": "quantitative", "scale": {"domain": [-0.6, 0.6], "nice": false, "zero": false}, "axis": null},
            "text": {"field": "t"}
          }
        }
      ]
    }
  ]
}
